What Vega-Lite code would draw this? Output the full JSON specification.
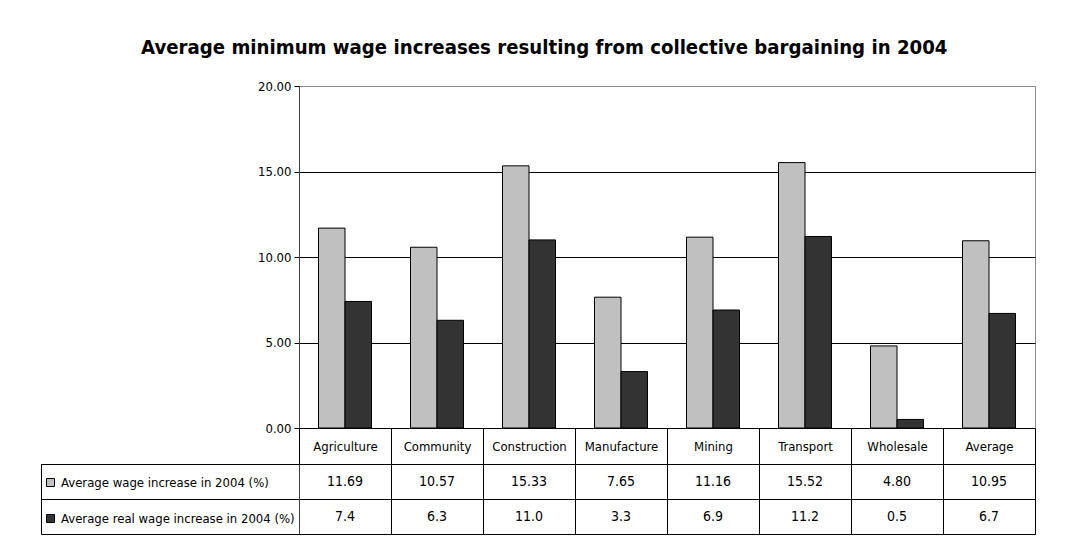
{
  "$schema": "https://vega.github.io/schema/vega-lite/v6.json",
  "padding": {"left": 40, "top": 38, "right": 0, "bottom": 0},
  "background": "white",
  "title": {"text": "Average minimum wage increases resulting from collective bargaining in 2004", "font": "'Liberation Sans Narrow', 'DejaVu Sans Condensed', 'Liberation Sans', sans-serif", "fontSize": 20.2, "fontWeight": "bold", "color": "black", "anchor": "middle", "offset": 21, "dx": 6},
  "data": {"values": [
    {"category": "Agriculture", "series": "Average wage increase in 2004 (%)", "value": 11.69},
    {"category": "Community", "series": "Average wage increase in 2004 (%)", "value": 10.57},
    {"category": "Construction", "series": "Average wage increase in 2004 (%)", "value": 15.33},
    {"category": "Manufacture", "series": "Average wage increase in 2004 (%)", "value": 7.65},
    {"category": "Mining", "series": "Average wage increase in 2004 (%)", "value": 11.16},
    {"category": "Transport", "series": "Average wage increase in 2004 (%)", "value": 15.52},
    {"category": "Wholesale", "series": "Average wage increase in 2004 (%)", "value": 4.80},
    {"category": "Average", "series": "Average wage increase in 2004 (%)", "value": 10.95},
    {"category": "Agriculture", "series": "Average real wage increase in 2004  (%)", "value": 7.4},
    {"category": "Community", "series": "Average real wage increase in 2004  (%)", "value": 6.3},
    {"category": "Construction", "series": "Average real wage increase in 2004  (%)", "value": 11.0},
    {"category": "Manufacture", "series": "Average real wage increase in 2004  (%)", "value": 3.3},
    {"category": "Mining", "series": "Average real wage increase in 2004  (%)", "value": 6.9},
    {"category": "Transport", "series": "Average real wage increase in 2004  (%)", "value": 11.2},
    {"category": "Wholesale", "series": "Average real wage increase in 2004  (%)", "value": 0.5},
    {"category": "Average", "series": "Average real wage increase in 2004  (%)", "value": 6.7}
  ]},
  "columns": 2,
  "spacing": {"row": 36, "column": 0},
  "bounds": "flush",
  "concat": [
    {
      "width": 258, "height": 342,
      "mark": {"type": "text"},
      "encoding": {"text": {"value": ""}},
      "view": {"stroke": null}
    },
    {
      "width": 736, "height": 342,
      "mark": {"type": "bar", "stroke": "black", "strokeWidth": 1},
      "encoding": {
        "x": {"field": "category", "type": "nominal", "sort": ["Agriculture", "Community", "Construction", "Manufacture", "Mining", "Transport", "Wholesale", "Average"], "scale": {"paddingInner": 0.424, "paddingOuter": 0.212}, "axis": null},
        "xOffset": {"field": "series", "type": "nominal", "sort": ["Average wage increase in 2004 (%)", "Average real wage increase in 2004  (%)"]},
        "y": {"field": "value", "type": "quantitative", "scale": {"domain": [0, 20]}, "axis": {"values": [0, 5, 10, 15, 20], "format": ".2f", "title": null, "grid": true, "gridColor": {"condition": {"test": "datum.value == 20", "value": "#8c8c8c"}, "value": "black"}, "gridWidth": 1, "domainColor": "#404040", "tickColor": "black", "tickSize": 5, "labelFont": "'Liberation Sans Narrow', 'DejaVu Sans Condensed', 'Liberation Sans', sans-serif", "labelFontSize": 13, "labelColor": "black", "labelPadding": 3}},
        "color": {"field": "series", "type": "nominal", "sort": ["Average wage increase in 2004 (%)", "Average real wage increase in 2004  (%)"], "scale": {"range": ["#C0C0C0", "#333333"]}, "legend": {"orient": "none", "legendX": 3, "legendY": 390, "direction": "vertical", "title": null, "symbolType": "square", "symbolSize": 64, "symbolStrokeColor": "black", "symbolStrokeWidth": 1, "labelFont": "'Liberation Sans Narrow', 'DejaVu Sans Condensed', 'Liberation Sans', sans-serif", "labelFontSize": 13, "labelColor": "black", "rowPadding": 22, "padding": 0, "labelLimit": 300}}
      },
      "view": {"stroke": "#8c8c8c"}
    },
    {
      "width": 258, "height": 70,
      "mark": {"type": "text"},
      "encoding": {
        "text": {"value": ""},
        "y": {"field": "series", "type": "nominal", "sort": ["Average wage increase in 2004 (%)", "Average real wage increase in 2004  (%)"], "scale": {"type": "band", "paddingInner": 0, "paddingOuter": 0}, "axis": {"labels": false, "ticks": false, "domain": false, "grid": true, "tickBand": "extent", "gridColor": "black", "title": null}}
      },
      "view": {"stroke": "black"}
    },
    {
      "width": 736, "height": 70,
      "encoding": {
        "x": {"field": "category", "type": "nominal", "sort": ["Agriculture", "Community", "Construction", "Manufacture", "Mining", "Transport", "Wholesale", "Average"], "scale": {"type": "band", "paddingInner": 0, "paddingOuter": 0}, "axis": {"orient": "top", "title": null, "domain": false, "ticks": true, "tickBand": "extent", "tickSize": 36, "tickColor": "black", "labelPadding": -18, "labelBaseline": "middle", "labelAngle": 0, "labelFont": "'Liberation Sans Narrow', 'DejaVu Sans Condensed', 'Liberation Sans', sans-serif", "labelFontSize": 13, "labelColor": "black", "grid": true, "gridColor": "black"}},
        "y": {"field": "series", "type": "nominal", "sort": ["Average wage increase in 2004 (%)", "Average real wage increase in 2004  (%)"], "scale": {"type": "band", "paddingInner": 0, "paddingOuter": 0}, "axis": {"labels": false, "ticks": false, "domain": true, "domainColor": "#404040", "grid": true, "tickBand": "extent", "gridColor": "black", "title": null}}
      },
      "layer": [
        {
          "transform": [{"filter": "datum.series == 'Average wage increase in 2004 (%)'"}],
          "mark": {"type": "text", "font": "'Liberation Sans Narrow', 'DejaVu Sans Condensed', 'Liberation Sans', sans-serif", "fontSize": 14, "color": "black"},
          "encoding": {"text": {"field": "value", "type": "quantitative", "format": ".2f"}}
        },
        {
          "transform": [{"filter": "datum.series == 'Average real wage increase in 2004  (%)'"}],
          "mark": {"type": "text", "font": "'Liberation Sans Narrow', 'DejaVu Sans Condensed', 'Liberation Sans', sans-serif", "fontSize": 14, "color": "black"},
          "encoding": {"text": {"field": "value", "type": "quantitative", "format": ".1f"}}
        }
      ],
      "view": {"stroke": "black"}
    }
  ]
}
